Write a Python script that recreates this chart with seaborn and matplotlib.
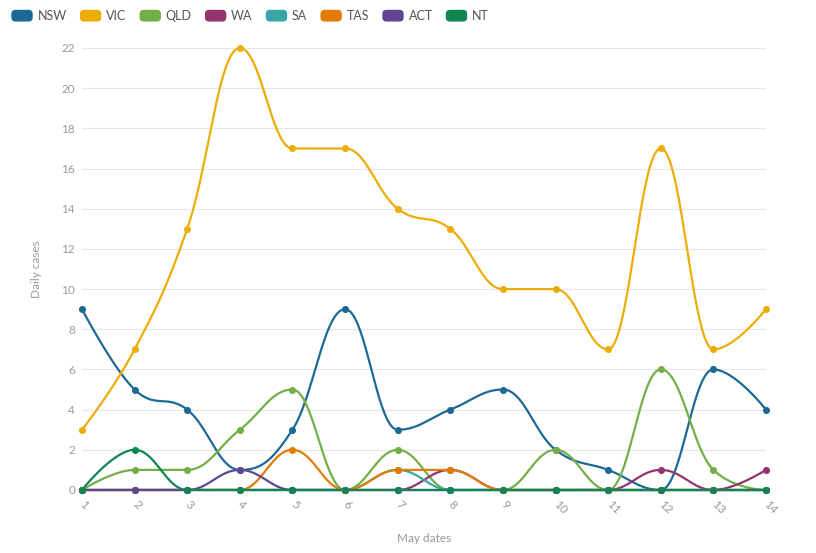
import numpy as np
import pandas as pd
import matplotlib
matplotlib.use("Agg")
import matplotlib.pyplot as plt
import seaborn as sns
from matplotlib.patches import Patch, FancyBboxPatch
from matplotlib.legend_handler import HandlerPatch

# ---------------- data ----------------
days = list(range(1, 15))
states = ["NSW", "VIC", "QLD", "WA", "SA", "TAS", "ACT", "NT"]
nsw = [9, 5, 4, 1, 3, 9, 3, 4, 5, 2, 1, 0, 6, 4]
vic = [3, 7, 13, 22, 17, 17, 14, 13, 10, 10, 7, 17, 7, 9]
qld = [0, 1, 1, 3, 5, 0, 2, 0, 0, 2, 0, 6, 1, 0]
wa = [0, 0, 0, 0, 0, 0, 0, 1, 0, 0, 0, 1, 0, 1]
sa = [0, 0, 0, 0, 0, 0, 1, 0, 0, 0, 0, 0, 0, 0]
tas = [0, 0, 0, 0, 2, 0, 1, 1, 0, 0, 0, 0, 0, 0]
act = [0, 0, 0, 1, 0, 0, 0, 0, 0, 0, 0, 0, 0, 0]
nt = [0, 2, 0, 0, 0, 0, 0, 0, 0, 0, 0, 0, 0, 0]
series = [nsw, vic, qld, wa, sa, tas, act, nt]
colors = ["#1D6996", "#EDAD08", "#73AF48", "#94346E",
          "#38A6A5", "#E17C05", "#5F4690", "#0F8554"]
yticks = list(range(0, 23, 2))


def spline_curve(xs, ys, smoothing=1.5, n=40):
    """Highcharts-style spline through the points."""
    xs = np.asarray(xs, float)
    ys = np.asarray(ys, float)
    m = len(xs)
    lc = [(xs[i], ys[i]) for i in range(m)]
    rc = [(xs[i], ys[i]) for i in range(m)]
    d = smoothing + 1
    for i in range(1, m - 1):
        px, py = xs[i], ys[i]
        lx_, ly_ = xs[i - 1], ys[i - 1]
        nx_, ny_ = xs[i + 1], ys[i + 1]
        lcx = (smoothing * px + lx_) / d
        lcy = (smoothing * py + ly_) / d
        rcx = (smoothing * px + nx_) / d
        rcy = (smoothing * py + ny_) / d
        corr = 0.0
        if rcx != lcx:
            corr = (rcy - lcy) * (rcx - px) / (rcx - lcx) + py - rcy
        lcy += corr
        rcy += corr
        if lcy > ly_ and lcy > py:
            lcy = max(ly_, py)
            rcy = 2 * py - lcy
        elif lcy < ly_ and lcy < py:
            lcy = min(ly_, py)
            rcy = 2 * py - lcy
        if rcy > ny_ and rcy > py:
            rcy = max(ny_, py)
            lcy = 2 * py - rcy
        elif rcy < ny_ and rcy < py:
            rcy = min(ny_, py)
            lcy = 2 * py - rcy
        lc[i] = (lcx, lcy)
        rc[i] = (rcx, rcy)
    t = np.linspace(0, 1, n)
    outx, outy = [xs[0]], [ys[0]]
    for i in range(1, m):
        p0 = (xs[i - 1], ys[i - 1])
        p1 = rc[i - 1]
        p2 = lc[i]
        p3 = (xs[i], ys[i])
        bx = ((1 - t) ** 3 * p0[0] + 3 * (1 - t) ** 2 * t * p1[0]
              + 3 * (1 - t) * t ** 2 * p2[0] + t ** 3 * p3[0])
        by = ((1 - t) ** 3 * p0[1] + 3 * (1 - t) ** 2 * t * p1[1]
              + 3 * (1 - t) * t ** 2 * p2[1] + t ** 3 * p3[1])
        outx.extend(bx[1:])
        outy.extend(by[1:])
    return np.array(outx), np.array(outy)


# ---------------- figure ----------------
sns.set_theme(style="white")
plt.rcParams["font.family"] = ["Lato", "DejaVu Sans"]

fig = plt.figure(figsize=(8.16, 5.53), dpi=100)
L, R, T, B = 82, 766, 48, 490
ax = fig.add_axes([L / 816, 1 - B / 553, (R - L) / 816, (B - T) / 553])

for name, vals, col in zip(states, series, colors):
    cx, cy = spline_curve(days, vals)
    dfc = pd.DataFrame({"x": cx, "y": cy})
    sns.lineplot(data=dfc, x="x", y="y", ax=ax, color=col, lw=1.6,
                 sort=False, estimator=None, clip_on=False, legend=False)
    dfp = pd.DataFrame({"x": days, "y": vals})
    sns.scatterplot(data=dfp, x="x", y="y", ax=ax, color=col, s=26,
                    edgecolor=col, linewidth=0, clip_on=False, zorder=3,
                    legend=False)

ax.set_xlim(1, 14)
ax.set_ylim(0, 22)
ax.set_yticks(yticks)
ax.set_yticklabels([str(v) for v in yticks])
ax.set_xticks(days)
ax.set_xticklabels([str(d) for d in days], rotation=-45, ha="left",
                   va="center", rotation_mode="anchor")
ax.grid(axis="y", color="#e6e6e6", lw=0.8)
ax.grid(axis="x", visible=False)
ax.set_axisbelow(True)
for s in ax.spines.values():
    s.set_visible(False)
ax.tick_params(axis="y", length=0, pad=5, labelsize=8.5, labelcolor="#999999")
ax.tick_params(axis="x", length=0, pad=9, labelsize=8.5, labelcolor="#999999")
ax.set_xlabel("May dates", color="#999999", fontsize=8.5, labelpad=12)
ax.set_ylabel("Daily cases", color="#999999", fontsize=8.5, labelpad=14)


def make_box(legend, orig_handle, xdescent, ydescent, width, height, fontsize):
    r = 2.5
    return FancyBboxPatch((-xdescent + r, -ydescent + r), width - 2 * r,
                          height - 2 * r, boxstyle=f"round,pad={r}")


handles = [Patch(facecolor=c, edgecolor=c, label=s) for s, c in zip(states, colors)]
fig.legend(handles=handles, loc="center left",
           bbox_to_anchor=(12 / 816, 1 - 16 / 553), ncol=8, frameon=False,
           fontsize=9, handlelength=1.6, handleheight=0.9, handletextpad=0.45,
           columnspacing=1.1, borderpad=0, borderaxespad=0,
           labelcolor="#555555",
           handler_map={Patch: HandlerPatch(patch_func=make_box)})

fig.savefig("out.png", dpi=100)
